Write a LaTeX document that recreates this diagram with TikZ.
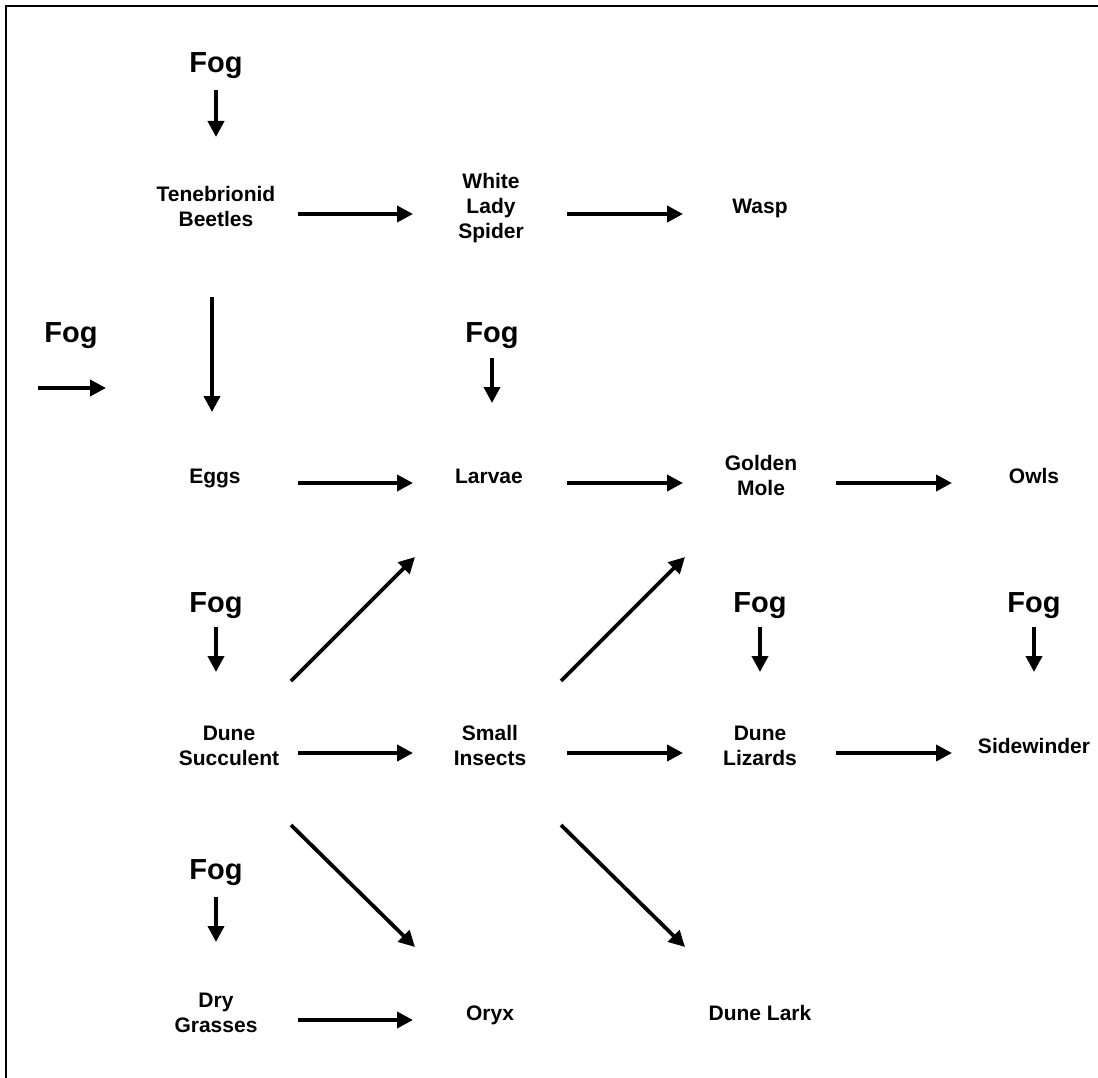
\documentclass[tikz,border=0pt]{standalone}
\usepackage{fontspec}
\setmainfont{Liberation Sans}
\usetikzlibrary{arrows.meta}
\tikzset{
  lbl/.style={font=\fontsize{21}{25}\selectfont\bfseries, align=center, inner sep=0pt},
  foglbl/.style={font=\fontsize{29}{34}\selectfont\bfseries, anchor=base, inner sep=0pt},
  arr/.style={line width=3.8pt, -{Triangle[length=16pt,width=16pt]}},
  frame/.style={line width=2pt}
}
\begin{document}
\begin{tikzpicture}[x=1pt,y=-1pt]
\useasboundingbox (0,0) rectangle (1098,1078);
% frame (top and left edges)
\draw[frame] (6,1078) -- (6,6.5) -- (1098,6.5);

% Fog labels
\node[foglbl] (fogA) at (216,73) {Fog};
\node[foglbl] (fogL) at (71,342) {Fog};
\node[foglbl] (fogB) at (492,342) {Fog};
\node[foglbl] (fogC) at (216,612) {Fog};
\node[foglbl] (fogD) at (760,612) {Fog};
\node[foglbl] (fogE) at (1034,612) {Fog};
\node[foglbl] (fogF) at (216,879) {Fog};

% organisms
\node[lbl] (beetles) at (216,206.4) {Tenebrionid\\Beetles};
\node[lbl] (spider) at (491,208.5) {White\\Lady\\Spider};
\node[lbl, anchor=base] (wasp) at (760,214) {Wasp};
\node[lbl, anchor=base] (eggs) at (215,483) {Eggs};
\node[lbl, anchor=base] (larvae) at (489,483) {Larvae};
\node[lbl] (mole) at (761,475.4) {Golden\\Mole};
\node[lbl, anchor=base] (owls) at (1034,483) {Owls};
\node[lbl] (succ) at (229,745.4) {Dune\\Succulent};
\node[lbl] (insects) at (490,745.4) {Small\\Insects};
\node[lbl] (lizards) at (760,745.4) {Dune\\Lizards};
\node[lbl, anchor=base] (side) at (1034,753) {Sidewinder};
\node[lbl] (grasses) at (216,1012.5) {Dry\\Grasses};
\node[lbl, anchor=base] (oryx) at (490,1020) {Oryx};
\node[lbl, anchor=base] (lark) at (760,1020) {Dune Lark};

% fog arrows
\draw[arr] ([shift={(0,17)}]fogA.base) -- ([shift={(0,-69.4)}]beetles.center);
\draw[arr] ([shift={(-33,46)}]fogL.base) -- ([shift={(35,46)}]fogL.base);
\draw[arr] ([shift={(0,16)}]fogB.base) -- ([shift={(3,-80)}]larvae.base);
\draw[arr] ([shift={(0,15)}]fogC.base) -- ([shift={(-13,-73.4)}]succ.center);
\draw[arr] ([shift={(0,15)}]fogD.base) -- ([shift={(0,-73.4)}]lizards.center);
\draw[arr] ([shift={(0,15)}]fogE.base) -- ([shift={(0,-81)}]side.base);
\draw[arr] ([shift={(0,18)}]fogF.base) -- ([shift={(0,-70.5)}]grasses.center);

% row 1
\draw[arr] ([shift={(82,7.6)}]beetles.center) -- ([shift={(-78,5.5)}]spider.center);
\draw[arr] ([shift={(76,5.5)}]spider.center) -- ([shift={(-77,0)}]wasp.base);
\draw[arr] ([shift={(-4,90.6)}]beetles.center) -- ([shift={(-3,-71)}]eggs.base);

% row 2
\draw[arr] ([shift={(83,0)}]eggs.base) -- ([shift={(-76,0)}]larvae.base);
\draw[arr] ([shift={(78,0)}]larvae.base) -- ([shift={(-78,7.6)}]mole.center);
\draw[arr] ([shift={(75,7.6)}]mole.center) -- ([shift={(-82,0)}]owls.base);

% row 3
\draw[arr] ([shift={(62,-64.4)}]succ.center) -- ([shift={(-74,74)}]larvae.base);
\draw[arr] ([shift={(71,-64.4)}]insects.center) -- ([shift={(-76,81.6)}]mole.center);
\draw[arr] ([shift={(69,7.6)}]succ.center) -- ([shift={(-77,7.6)}]insects.center);
\draw[arr] ([shift={(77,7.6)}]insects.center) -- ([shift={(-77,7.6)}]lizards.center);
\draw[arr] ([shift={(76,7.6)}]lizards.center) -- ([shift={(-82,0)}]side.base);
\draw[arr] ([shift={(62,79.6)}]succ.center) -- ([shift={(-75,-73)}]oryx.base);
\draw[arr] ([shift={(71,79.6)}]insects.center) -- ([shift={(-75,-73)}]lark.base);

% row 4
\draw[arr] ([shift={(82,7.5)}]grasses.center) -- ([shift={(-77,0)}]oryx.base);
\end{tikzpicture}
\end{document}
